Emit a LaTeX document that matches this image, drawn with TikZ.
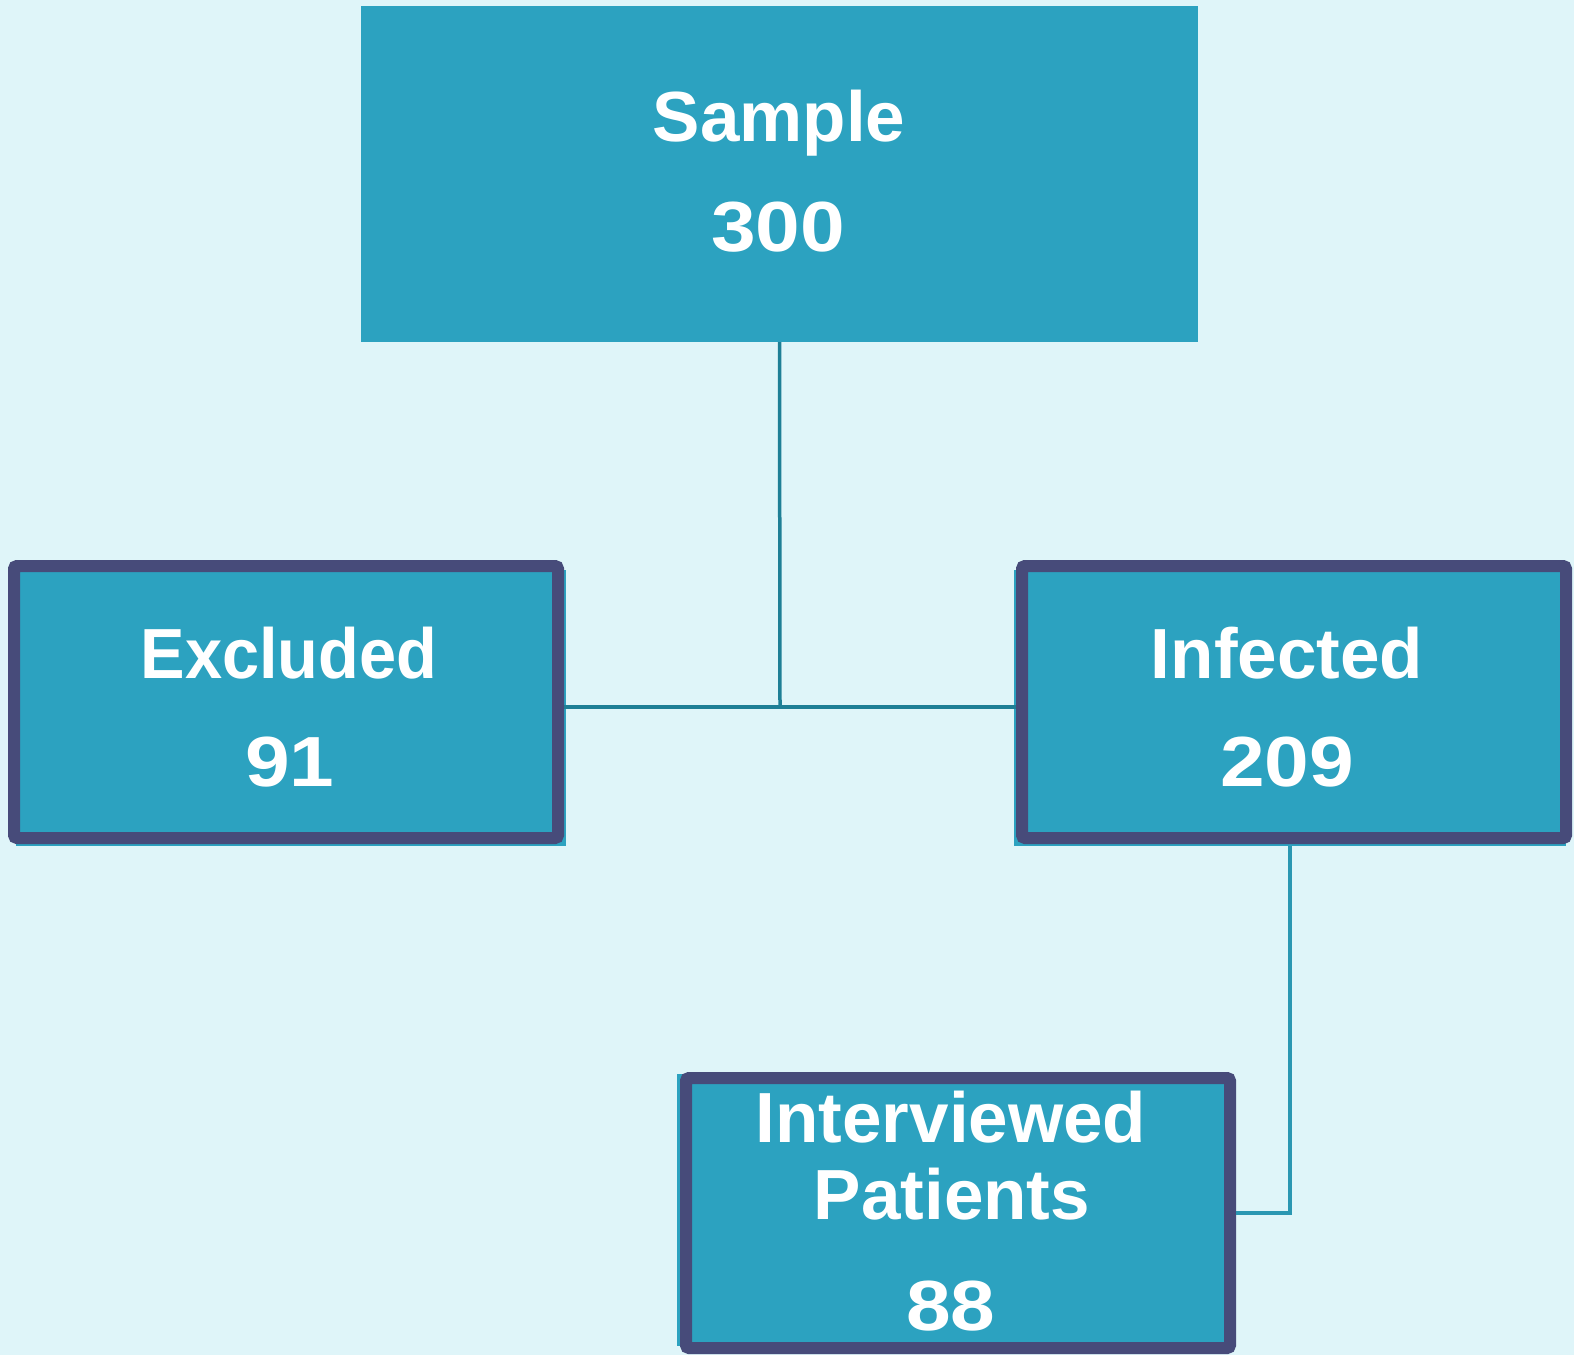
\documentclass[tikz,border=0pt]{standalone}
\usepackage{fontspec}
\setmainfont{Liberation Sans}
\definecolor{bg}{HTML}{DFF5F9}
\definecolor{boxfill}{HTML}{2CA2C0}
\definecolor{boxline}{HTML}{474B7A}
\definecolor{conn}{HTML}{1E7F96}
\definecolor{connb}{HTML}{2A97B2}
\newcommand{\widenum}[1]{\scalebox{1.13}[1]{#1}}
\begin{document}
\begin{tikzpicture}[x=1pt,y=-1pt,
  card/.style={draw=boxline,fill=boxfill,line width=12pt,rounded corners=3pt,
    minimum width=544pt,minimum height=272pt,inner sep=0pt},
  plain/.style={fill=boxfill,minimum width=837pt,minimum height=336pt,inner sep=0pt},
  lbl/.style={text=white,anchor=base,inner sep=0pt,font=\bfseries\fontsize{71}{71}\selectfont},
  link/.style={draw=conn,line width=3.5pt},
  linkb/.style={draw=connb,line width=3.5pt}]
\fill[bg] (0,0) rectangle (1574,1355);
\useasboundingbox (0,0) rectangle (1574,1355);
% top box
\node[plain] (sample) at (779.5,174) {};
% offset fills
\fill[boxfill] (16,570) rectangle (566,846);
\fill[boxfill] (1014,570) rectangle (1566,846);
\fill[boxfill] (677,1074) rectangle (1228,1346);
\node[card] (excl) at (286,702) {};
\node[card] (inf) at (1294,702) {};
\node[card,minimum height=270pt] (intv) at (958,1213) {};
% connectors
\coordinate (j) at (780,707);
\draw[link] (sample.south) -- (j);
\draw[link] (excl.east |- j) -- (inf.west |- j);
\coordinate (k) at (1290,846);
\draw[linkb] (k) -- (k |- intv.east) -- (intv.east);
% labels
\node[lbl] (t1) at (779,141) {Sample};
\node[lbl] (t2) at (778,251) {\widenum{300}};
\node[lbl] (t3) at (289,678) {\scalebox{0.94}[1]{Excluded}};
\node[lbl] (t4) at (290,786) {\widenum{91}};
\node[lbl] (t5) at (1287,678) {Infected};
\node[lbl] (t6) at (1287,786) {\widenum{209}};
\node[lbl] (t7) at (951,1142) {Interviewed};
\node[lbl] (t8) at (952,1219) {Patients};
\node[lbl] (t9) at (951,1330) {\widenum{88}};
\end{tikzpicture}
\end{document}
